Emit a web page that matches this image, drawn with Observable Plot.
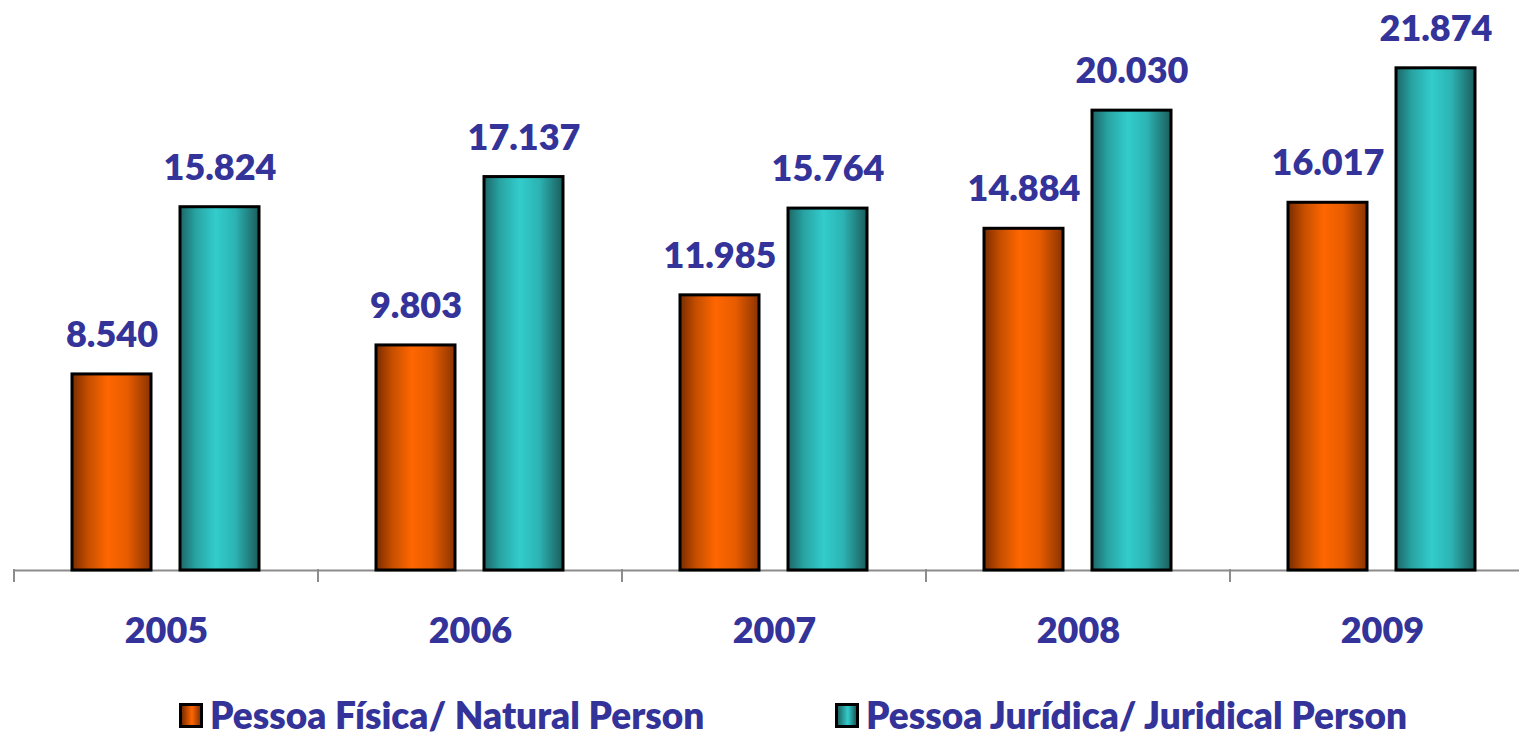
<!DOCTYPE html>
<html><head><meta charset="utf-8">
<script src="https://cdn.jsdelivr.net/npm/d3@7"></script>
<script src="https://cdn.jsdelivr.net/npm/@observablehq/plot@0.6"></script>
<style>
html,body{margin:0;padding:0;background:#fff;overflow:hidden}
body{font-family:Lato,"Open Sans",sans-serif;width:1519px;height:738px;position:relative}
#chart svg{overflow:visible;display:block}
.leg{position:absolute;top:695px;height:40px;line-height:40px;display:flex;align-items:center;font-size:37px;font-weight:800;color:#333399;white-space:nowrap}
.sw{width:18px;height:19px;border:3px solid #000;margin-right:7px}
</style></head><body>
<div id="chart"></div>
<div id="legend"></div>
<script>
const years = ["2005", "2006", "2007", "2008", "2009"];
const seriesNames = ["Pessoa Física/ Natural Person", "Pessoa Jurídica/ Juridical Person"];
const fisica = [8540, 9803, 11985, 14884, 16017];
const juridica = [15824, 17137, 15764, 20030, 21874];

const gradIds = ["gradOrange", "gradTeal"];
const gradStops = [
  ["#7a2c00", "#c44e00", "#ff6600", "#e85c00", "#8a3400"],
  ["#1d6666", "#28a3a3", "#33cccc", "#2cb3b3", "#1b5c5c"]
];

const data = [];
years.forEach((y, i) => {
  data.push({year: y, series: seriesNames[0], value: fisica[i]});
  data.push({year: y, series: seriesNames[1], value: juridica[i]});
});

const locale = d3.formatLocale({decimal: ",", thousands: ".", grouping: [3], currency: ["", ""]});
const fmt = locale.format(",.0f");
const textColor = "#333399";

const plot = Plot.plot({
  width: 1519,
  height: 680,
  marginLeft: 13,
  marginRight: -15,
  marginTop: 19,
  marginBottom: 110,
  style: {fontFamily: "Lato, 'Open Sans', sans-serif", color: textColor, background: "transparent"},
  fx: {domain: years, padding: 0, label: null},
  x: {domain: seriesNames, paddingInner: 0.2685, paddingOuter: 0.537, axis: null},
  y: {domain: [0, 24000], axis: null},
  color: {domain: seriesNames, range: gradIds.map(id => `url(#${id})`)},
  marks: [
    Plot.ruleY([0], {stroke: "#8c8c8c", strokeWidth: 2}),
    Plot.barY(data, {fx: "year", x: "series", y: "value", fill: "series", stroke: "#000", strokeWidth: 3}),
    Plot.text(data, {fx: "year", x: "series", y: "value", text: d => fmt(d.value), dy: -39, fontSize: 36, fontWeight: 800, fill: textColor}),
    Plot.axisFx({anchor: "bottom", tickSize: 0, tickPadding: 47, fontSize: 36, fontWeight: 800, fill: textColor, label: null})
  ]
});

const svg = d3.select(plot);
const defs = svg.insert("defs", ":first-child");
gradIds.forEach((id, k) => {
  const g = defs.append("linearGradient").attr("id", id).attr("x1", 0).attr("x2", 1).attr("y1", 0).attr("y2", 0);
  const offs = [0, 0.2, 0.45, 0.7, 1];
  gradStops[k].forEach((c, j) => g.append("stop").attr("offset", offs[j]).attr("stop-color", c));
});

// category boundary ticks from the fx scale
const fx = plot.scale("fx");
const ys = plot.scale("y");
const y0 = ys.apply(0);
const bounds = years.map(y => fx.apply(y));
bounds.push(fx.apply(years[years.length - 1]) + fx.bandwidth);
svg.append("g").selectAll("line").data(bounds).join("line")
  .attr("x1", d => d).attr("x2", d => d)
  .attr("y1", y0 - 1).attr("y2", y0 + 12)
  .attr("stroke", "#8c8c8c").attr("stroke-width", 2);

document.getElementById("chart").appendChild(plot);

// legend
const legend = document.getElementById("legend");
const legLeft = [179, 835];
seriesNames.forEach((name, k) => {
  const item = document.createElement("div");
  item.className = "leg";
  item.style.left = legLeft[k] + "px";
  const sw = document.createElement("div");
  sw.className = "sw";
  sw.style.background = `linear-gradient(to right, ${gradStops[k][0]}, ${gradStops[k][2]} 55%, ${gradStops[k][4]})`;
  const t = document.createElement("span");
  t.textContent = name;
  item.appendChild(sw);
  item.appendChild(t);
  legend.appendChild(item);
});
</script>
</body></html>
